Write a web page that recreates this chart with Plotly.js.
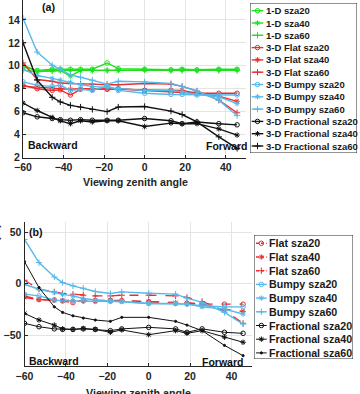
<!DOCTYPE html>
<html>
<head>
<meta charset="utf-8">
<script src="https://cdn.plot.ly/plotly-3.0.1.min.js"></script>
<style>
  html, body { margin: 0; padding: 0; overflow: hidden; background: #fff; }
  #chart { position: absolute; left: 0; top: -3px; width: 360px; height: 397px; }
</style>
</head>
<body>
<div id="chart"></div>
<script>
// Viewing zenith angles (deg), negative = backward scattering
const angles = [-60, -53, -45.6, -41.6, -36.6, -31.6, -25.8, -18.5, -13, 0, 13, 18.5, 25.8, 36.6, 45.6];

// Panel (a): reflectance
const oneD_sza20  = [9.9, 9.6, 9.7, 9.7, 9.7, 9.7, 9.7, 10.25, 9.75, 9.7, 9.65, 9.7, 9.65, 9.7, 9.7];
const oneD_sza40  = [10.1, 9.5, 9.6, 9.6, 9.1, 9.6, 9.6, 9.6, 9.6, 9.65, 9.6, 9.65, 9.6, 9.65, 9.65];
const oneD_sza60  = [9.6, 9.5, 9.55, 9.6, 9.6, 9.6, 9.6, 9.6, 9.65, 9.65, 9.6, 9.6, 9.6, 9.6, 9.6];
const flat_sza20  = [8.3, 8.0, 7.85, 7.9, 7.45, 7.95, 7.95, 7.95, 8.0, 7.85, 7.7, 7.7, 7.6, 7.6, 7.6];
const flat_sza40  = [8.2, 8.15, 8.05, 8.0, 7.95, 8.0, 8.0, 7.95, 7.95, 7.9, 7.9, 7.85, 7.6, 7.35, 6.9];
const flat_sza60  = [10.25, 8.8, 8.65, 8.5, 8.45, 8.4, 8.4, 8.35, 8.35, 8.45, 8.4, 8.2, 7.8, 7.0, 5.9];
const bumpy_sza20 = [8.6, 8.3, 8.2, 8.3, 7.85, 7.95, 7.85, 8.25, 7.85, 7.6, 7.5, 7.5, 7.45, 7.45, 7.45];
const bumpy_sza40 = [9.7, 9.15, 8.9, 8.75, 8.55, 8.35, 8.2, 8.1, 8.0, 7.85, 7.85, 7.75, 7.5, 7.3, 6.7];
const bumpy_sza60 = [14.15, 11.2, 10.05, 9.7, 9.2, 9.0, 8.75, 8.4, 8.65, 8.6, 8.45, 8.2, 7.8, 7.0, 5.65];
const frac_sza20  = [5.9, 5.55, 5.4, 5.3, 5.25, 5.3, 5.25, 5.25, 5.25, 5.4, 5.2, 4.95, 5.1, 4.95, 4.85];
const frac_sza40  = [6.75, 6.1, 5.5, 5.2, 4.95, 5.2, 5.1, 5.2, 5.2, 4.7, 5.0, 4.95, 4.95, 4.5, 3.95];
const frac_sza60  = [12.0, 8.75, 7.25, 6.85, 6.55, 6.4, 6.2, 6.0, 6.4, 6.45, 6.05, 5.75, 5.1, 3.8, 2.8];

// Panel (b): relative difference (%)
const dFlat_sza20  = [-12, -15.5, -16, -16.8, -18.5, -16.5, -16.5, -16.3, -16.5, -17.7, -19.3, -19.3, -20, -20, -20];
const dFlat_sza40  = [-13.5, -15.5, -16.2, -16.5, -16.8, -16.8, -16.8, -16.5, -16.8, -17.5, -18.5, -18.5, -20, -24.8, -27];
const dFlat_sza60  = [3.2, -5.5, -8.1, -9.7, -10.3, -11.3, -12, -12, -11.3, -11.3, -12, -13.5, -17.4, -26.4, -38.6];
const dBumpy_sza20 = [-10.3, -12, -16, -16.8, -17, -17, -17.4, -17.4, -17.4, -19.3, -19.3, -20, -21.5, -22.6, -22.6];
const dBumpy_sza40 = [-0.7, -5.5, -8.7, -10.5, -12, -14.5, -16, -17, -17.4, -19.3, -19.3, -20, -22.6, -24.8, -29.6];
const dBumpy_sza60 = [42.8, 20.3, 6.4, 1, -2.3, -4.5, -7.7, -9.7, -8.1, -9.4, -10.3, -14.2, -18.3, -28, -39.3];
const dFrac_sza20  = [-38.6, -41.9, -44, -44.5, -44.5, -44, -44.5, -45.7, -44, -42.5, -44, -47.3, -44, -47.3, -48.3];
const dFrac_sza40  = [-29, -35.4, -40.3, -44, -44.5, -43.5, -44.5, -47.3, -45, -49.6, -45.7, -48.3, -45.7, -52, -57];
const dFrac_sza60  = [21.2, -3.9, -22.6, -28, -31.3, -33.5, -35.4, -36.7, -32.8, -32.8, -36.7, -40.3, -45.7, -60, -70];

const namesA = ['1-D sza20', '1-D sza40', '1-D sza60',
                '3-D Flat sza20', '3-D Flat sza40', '3-D Flat sza60',
                '3-D Bumpy sza20', '3-D Bumpy sza40', '3-D Bumpy sza60',
                '3-D Fractional sza20', '3-D Fractional sza40', '3-D Fractional sza60'];
const namesB = ['Flat sza20', 'Flat sza40', 'Flat sza60',
                'Bumpy sza20', 'Bumpy sza40', 'Bumpy sza60',
                'Fractional sza20', 'Fractional sza40', 'Fractional sza60'];

const GREEN = '#1fe01f', RED = '#ec2d2d', BLUE = '#55b9ea', BLACK = '#111111';
const INK = '#262626';
const FONT = 'Liberation Sans, Arial, sans-serif';

const W = 360, H = 397;
const fx = p => p / W;
const fy = p => 1 - p / H;

// marker symbol per solar zenith angle
const symA = ['circle-open', 'asterisk-open', 'cross-thin-open'];
const symB = ['circle-open', 'asterisk-open', 'cross-thin-open'];

const seriesA = [
  {y: oneD_sza20, c: GREEN}, {y: oneD_sza40, c: GREEN}, {y: oneD_sza60, c: GREEN},
  {y: flat_sza20, c: RED}, {y: flat_sza40, c: RED}, {y: flat_sza60, c: RED},
  {y: bumpy_sza20, c: BLUE}, {y: bumpy_sza40, c: BLUE}, {y: bumpy_sza60, c: BLUE},
  {y: frac_sza20, c: BLACK}, {y: frac_sza40, c: BLACK}, {y: frac_sza60, c: BLACK}
];
const seriesB = [
  {y: dFlat_sza20, c: RED, dash: 'dash', w: 1.4}, {y: dFlat_sza40, c: RED, dash: 'dash', w: 1.4}, {y: dFlat_sza60, c: RED, dash: 'dash', w: 1.4},
  {y: dBumpy_sza20, c: BLUE, dash: 'solid', w: 1.4}, {y: dBumpy_sza40, c: BLUE, dash: 'solid', w: 1.4}, {y: dBumpy_sza60, c: BLUE, dash: 'solid', w: 1.4},
  {y: dFrac_sza20, c: BLACK, dash: 'solid', w: 1}, {y: dFrac_sza40, c: BLACK, dash: 'solid', w: 1}, {y: dFrac_sza60, c: BLACK, dash: 'solid', w: 1}
];

function markerFor(sym, color, i, isB) {
  const small = isB && i === 8;
  return {
    symbol: small ? 'circle' : sym,
    size: small ? 2.2 : 4.5,
    color: color,
    line: {color: color, width: 1}
  };
}

const traces = [];

seriesA.forEach((s, i) => {
  traces.push({
    x: angles, y: s.y, xaxis: 'x', yaxis: 'y', type: 'scatter', mode: 'lines+markers',
    name: namesA[i], showlegend: false, hoverinfo: 'skip',
    line: {color: s.c, width: 1.4},
    marker: markerFor(symA[i % 3], s.c, i, false)
  });
});

seriesB.forEach((s, i) => {
  traces.push({
    x: angles, y: s.y, xaxis: 'x2', yaxis: 'y2', type: 'scatter', mode: 'lines+markers',
    name: namesB[i], showlegend: false, hoverinfo: 'skip',
    line: {color: s.c, width: s.w, dash: s.dash},
    marker: markerFor(symB[i % 3], s.c, i, true)
  });
});

// Compact legend boxes built on their own pixel-scaled axes
const legA = {x0: 250, x1: 357, y0: 6, y1: 156, first: 13.7, step: 12.3, l0: 251.7, l1: 263.3, tx: 264.3, fs: 9.5};
const legB = {x0: 254, x1: 353, y0: 238, y1: 362, first: 246.3, step: 13.7, l0: 256, l1: 266.7, tx: 267.3, fs: 10.7};

function legendTraces(leg, series, syms, xa, ya, isB) {
  series.forEach((s, i) => {
    const yy = leg.first + leg.step * i;
    traces.push({
      x: [leg.l0, (leg.l0 + leg.l1) / 2, leg.l1], y: [yy, yy, yy],
      xaxis: xa, yaxis: ya, type: 'scatter', mode: 'lines', showlegend: false, hoverinfo: 'skip',
      line: {color: s.c, width: isB ? s.w : 1.4, dash: isB ? (s.dash === 'dash' ? '3px,2px' : 'solid') : 'solid'}
    });
    traces.push({
      x: [(leg.l0 + leg.l1) / 2], y: [yy],
      xaxis: xa, yaxis: ya, type: 'scatter', mode: 'markers', showlegend: false, hoverinfo: 'skip',
      marker: markerFor(syms[i % 3], s.c, i, isB)
    });
  });
}
legendTraces(legA, seriesA, symA, 'x3', 'y3', false);
legendTraces(legB, seriesB, symB, 'x4', 'y4', true);

const annotations = [];
function legendText(leg, names, xa, ya) {
  names.forEach((n, i) => {
    annotations.push({
      xref: xa, yref: ya, x: leg.tx, y: leg.first + leg.step * i,
      xanchor: 'left', yanchor: 'middle', showarrow: false, text: n,
      font: {family: FONT, size: leg.fs, color: '#1a1a1a', weight: 'bold'}
    });
  });
}
legendText(legA, namesA, 'x3', 'y3');
legendText(legB, namesB, 'x4', 'y4');

function label(text, xpx, ypx, size, extra) {
  annotations.push(Object.assign({
    xref: 'paper', yref: 'paper', x: fx(xpx), y: fy(ypx),
    xanchor: 'center', yanchor: 'middle', showarrow: false, text: text,
    font: {family: FONT, size: size, color: '#111111', weight: 'bold'}
  }, extra || {}));
}
label('(a)', 49, 10, 10.7);
label('(b)', 36, 235, 10.7);
label('Backward', 53, 148, 10.5);
label('Forward', 226, 148.7, 10.5);
label('Backward', 53.5, 363.7, 10.5);
label('Forward', 222, 364.7, 10.5);
label('Viewing zenith angle', 135, 185, 10.7, {font: {family: FONT, size: 10.7, color: INK, weight: 'bold'}});
label('Viewing zenith angle', 138, 396, 10.7, {font: {family: FONT, size: 10.7, color: INK, weight: 'bold'}});
label('Reflectance', 2.6, 82, 10.7, {xanchor: 'right', textangle: -90, font: {family: FONT, size: 10.7, color: '#8a8a8a', weight: 'bold'}});
label('Relative difference (%)', 2.4, 225, 10.7, {xanchor: 'right', yanchor: 'top', textangle: -90, font: {family: FONT, size: 10.7, color: INK, weight: 'bold'}});

const shapes = [
  {type: 'rect', xref: 'x3', yref: 'y3', x0: legA.x0, x1: legA.x1, y0: legA.y0, y1: legA.y1,
   line: {color: INK, width: 1}, fillcolor: 'rgba(0,0,0,0)', layer: 'below'},
  {type: 'rect', xref: 'x4', yref: 'y4', x0: legB.x0, x1: legB.x1, y0: legB.y0, y1: legB.y1,
   line: {color: INK, width: 1}, fillcolor: 'rgba(0,0,0,0)', layer: 'below'}
];

const tickFont = {family: FONT, size: 10.5, color: INK, weight: 'bold'};
const baseAxis = {
  showgrid: true, gridcolor: '#e4e4e4', gridwidth: 1, zeroline: false,
  showline: true, linecolor: INK, linewidth: 1, mirror: false,
  ticks: 'inside', ticklen: 3, tickwidth: 1, tickcolor: INK,
  tickfont: tickFont, fixedrange: true
};
const hidden = {visible: false, showgrid: false, zeroline: false, fixedrange: true};

const layout = {
  width: W, height: H,
  margin: {l: 0, r: 0, t: 0, b: 0, pad: 0},
  paper_bgcolor: '#ffffff', plot_bgcolor: '#ffffff',
  showlegend: false,
  font: {family: FONT, color: INK},
  xaxis: Object.assign({}, baseAxis, {domain: [fx(23), fx(246)], range: [-60, 50], dtick: 20, tick0: 0, anchor: 'y'}),
  yaxis: Object.assign({}, baseAxis, {domain: [fy(160.5), 1], range: [2, 16], dtick: 2, tick0: 0, anchor: 'x'}),
  xaxis2: Object.assign({}, baseAxis, {domain: [fx(24.5), fx(252.2)], range: [-60, 50], dtick: 20, tick0: 0, anchor: 'y2'}),
  yaxis2: Object.assign({}, baseAxis, {domain: [fy(369), fy(224.7)], range: [-80, 60], dtick: 50, tick0: 0, anchor: 'x2'}),
  xaxis3: Object.assign({}, hidden, {domain: [fx(legA.x0), fx(legA.x1)], range: [legA.x0, legA.x1], anchor: 'y3'}),
  yaxis3: Object.assign({}, hidden, {domain: [fy(legA.y1), fy(legA.y0)], range: [legA.y1, legA.y0], anchor: 'x3'}),
  xaxis4: Object.assign({}, hidden, {domain: [fx(legB.x0), fx(legB.x1)], range: [legB.x0, legB.x1], anchor: 'y4'}),
  yaxis4: Object.assign({}, hidden, {domain: [fy(legB.y1), fy(legB.y0)], range: [legB.y1, legB.y0], anchor: 'x4'}),
  annotations: annotations,
  shapes: shapes
};

Plotly.newPlot('chart', traces, layout, {displayModeBar: false, staticPlot: true});
</script>
</body>
</html>
